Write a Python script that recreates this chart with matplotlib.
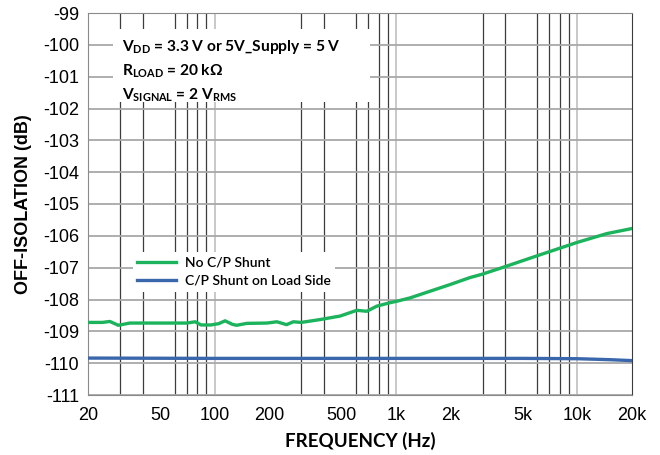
import numpy as np
import matplotlib
matplotlib.use('Agg')
import matplotlib.pyplot as plt
from matplotlib.patches import Rectangle
from matplotlib.ticker import FixedLocator, NullFormatter

# green trace: No C/P Shunt
freq_noshunt = [20, 24, 26.4, 29.4, 34, 50, 70, 78, 84, 95, 105, 114, 125, 132, 150,
                194, 220, 249, 271, 300, 381, 491, 607, 689, 782, 926, 1000, 1194,
                1539, 1985, 2559, 2967, 4077, 5968, 9913, 14513, 20000]
iso_noshunt = [-108.72, -108.72, -108.69, -108.81, -108.74, -108.74, -108.74, -108.70,
               -108.80, -108.80, -108.76, -108.67, -108.78, -108.81, -108.75, -108.74,
               -108.70, -108.79, -108.70, -108.72, -108.63, -108.52, -108.34, -108.37,
               -108.21, -108.10, -108.06, -107.95, -107.74, -107.53, -107.31, -107.21,
               -106.95, -106.63, -106.21, -105.93, -105.77]

# blue trace: C/P Shunt on Load Side
freq_loadside = [20, 100, 1000, 5000, 10000, 15000, 20000]
iso_loadside = [-109.84, -109.85, -109.85, -109.85, -109.86, -109.89, -109.92]

xticks = [20, 50, 100, 200, 500, 1000, 2000, 5000, 10000, 20000]
xlabels = ['20', '50', '100', '200', '500', '1k', '2k', '5k', '10k', '20k']
grid_freqs = [30, 40, 50, 60, 70, 80, 90, 200, 300, 400, 500, 600, 700, 800, 900,
              2000, 3000, 4000, 5000, 6000, 7000, 8000, 9000]
decades = [100, 1000, 10000]
yticks = np.arange(-111, -98, 1)

plt.rcParams['font.family'] = ['Liberation Sans', 'DejaVu Sans']
plt.rcParams['axes.unicode_minus'] = False
plt.rcParams['mathtext.fontset'] = 'custom'
plt.rcParams['mathtext.rm'] = 'Lato:bold'
plt.rcParams['mathtext.it'] = 'Lato:bold'
plt.rcParams['mathtext.bf'] = 'Lato:bold'

fig = plt.figure(figsize=(6.6, 4.55), dpi=100)
ax = fig.add_axes([88/660, 1 - 395/455, 544/660, 382/455])

ax.set_xscale('log')
ax.set_xlim(20, 20000)
ax.set_ylim(-111, -99)

ax.set_xticks(xticks)
ax.set_xticklabels(xlabels)
ax.xaxis.set_minor_locator(FixedLocator(grid_freqs))
ax.xaxis.set_minor_formatter(NullFormatter())
ax.set_yticks(yticks)
ax.tick_params(axis='both', which='both', length=0, labelsize=13)
ax.tick_params(axis='x', pad=8.5)
ax.tick_params(axis='y', pad=6.5)

ax.set_axisbelow(True)
ax.grid(axis='x', which='minor', color='#3c3c3c', lw=0.9)
ax.grid(axis='y', which='major', color='#a8a8a8', lw=1.3)
for d in decades:
    ax.axvline(d, color='#c4c4c4', lw=1.3, zorder=0.5)
for s in ax.spines.values():
    s.set_color('#8a8a8a')
ax.spines['right'].set_color('#3c3c3c')

ax.plot(freq_noshunt, iso_noshunt, color='#1bb35c', lw=2.4, label='No C/P Shunt', zorder=3)
ax.plot(freq_loadside, iso_loadside, color='#3a66ab', lw=2.4, label='C/P Shunt on Load Side', zorder=3)

leg = ax.legend(loc='upper left', bbox_to_anchor=(0.082, 0.375), frameon=True, fancybox=False,
                edgecolor='none', framealpha=1, handlelength=2.75, handletextpad=0.65,
                borderpad=0.35, labelspacing=0.45, borderaxespad=0,
                prop={'family': 'Lato', 'weight': 'semibold', 'size': 10})

# white panel behind the conditions text
ax.add_patch(Rectangle((0.046, 0.768), 0.472, 0.19, transform=ax.transAxes,
                       facecolor='white', edgecolor='none', zorder=2.5))
ax.text(0.063, 0.935,
        'V$_{DD}$ = 3.3 V or 5V_Supply = 5 V\nR$_{LOAD}$ = 20 k\u03a9\nV$_{SIGNAL}$ = 2 V$_{RMS}$',
        transform=ax.transAxes, ha='left', va='top', family=['Lato', 'DejaVu Sans'],
        weight='bold', fontsize=11.2, linespacing=1.5, zorder=4)

ax.set_xlabel('FREQUENCY (Hz)', family='Lato', weight='bold', fontsize=13.5, labelpad=6)
ax.set_ylabel('OFF-ISOLATION (dB)', weight='bold', fontsize=13, labelpad=8)

fig.savefig('out.png', dpi=100)
